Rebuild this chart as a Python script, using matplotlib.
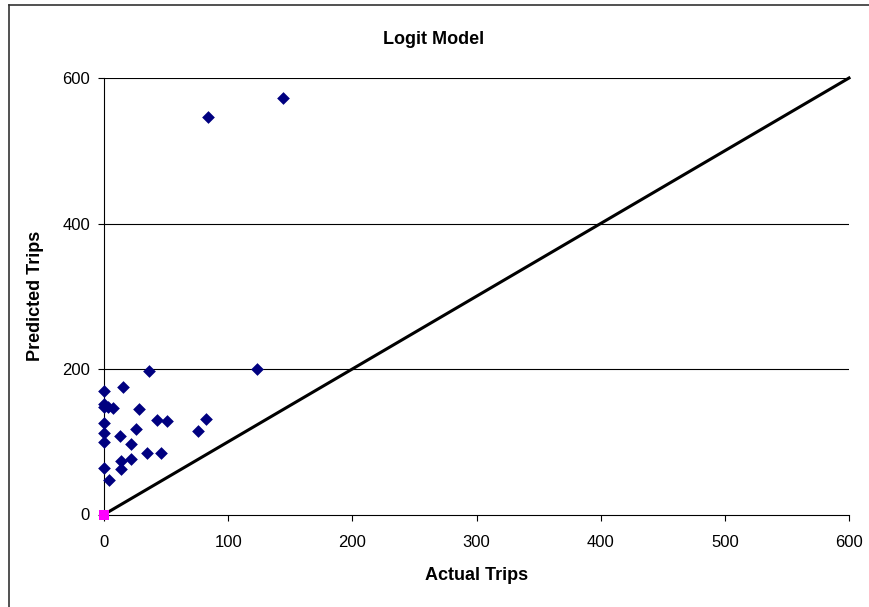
import matplotlib
matplotlib.use("Agg")
import matplotlib.pyplot as plt
from matplotlib.lines import Line2D

plt.rcParams['font.family'] = ['Liberation Sans', 'DejaVu Sans']

actual = [84, 144, 36, 123, 0, 15, 0, 0, 3, 7, 28, 0, 43, 51, 82, 76, 26,
          0, 13, 0, 22, 35, 46, 14, 22, 0, 14, 4]
predicted = [546, 573, 197, 200, 170, 175, 152, 148, 148, 147, 145, 126, 130, 128, 131, 115, 117,
             112, 108, 99, 97, 85, 85, 74, 76, 64, 62, 48]
zero_x = [0]
zero_y = [0]
line_x = [0, 600]
line_y = [0, 600]
ticks = [0, 100, 200, 300, 400, 500, 600]
yticks = [0, 200, 400, 600]

fig = plt.figure(figsize=(8.69, 6.07), dpi=100)
ax = fig.add_axes([104/869, 1-514.5/607, (849-104)/869, (514.5-78)/607])

for yv in yticks[1:]:
    ax.axhline(yv, color='black', lw=0.8, zorder=1)
ax.plot(line_x, line_y, color='black', lw=2.2, zorder=2, clip_on=False)
ax.scatter(actual, predicted, marker='D', s=42, color='#000080', zorder=3, clip_on=False, linewidths=0)
ax.scatter(zero_x, zero_y, marker='s', s=42, color='#FF00FF', zorder=4, clip_on=False, linewidths=0)

ax.set_xlim(0, 600)
ax.set_ylim(0, 600)
ax.set_xticks(ticks)
ax.set_yticks(yticks)
ax.tick_params(labelsize=12, length=4, width=0.8, colors='black')
ax.tick_params(axis='x', pad=11)
ax.tick_params(axis='y', pad=6)
for s in ['top', 'right']:
    ax.spines[s].set_visible(False)
for s in ['left', 'bottom']:
    ax.spines[s].set_linewidth(0.8)

ax.set_xlabel('Actual Trips', fontsize=13, fontweight='bold', labelpad=12)
ax.set_ylabel('Predicted Trips', fontsize=13, fontweight='bold', labelpad=13)
fig.text(434/869, 1-40/607, 'Logit Model', ha='center', va='center', fontsize=13, fontweight='bold')

fig.add_artist(Line2D([8.5/869, 8.5/869], [0, 1-5/607], color='#333333', lw=1.2, transform=fig.transFigure))
fig.add_artist(Line2D([8.5/869, 1], [1-5/607, 1-5/607], color='#333333', lw=1.2, transform=fig.transFigure))

fig.savefig('out.png', dpi=100)
